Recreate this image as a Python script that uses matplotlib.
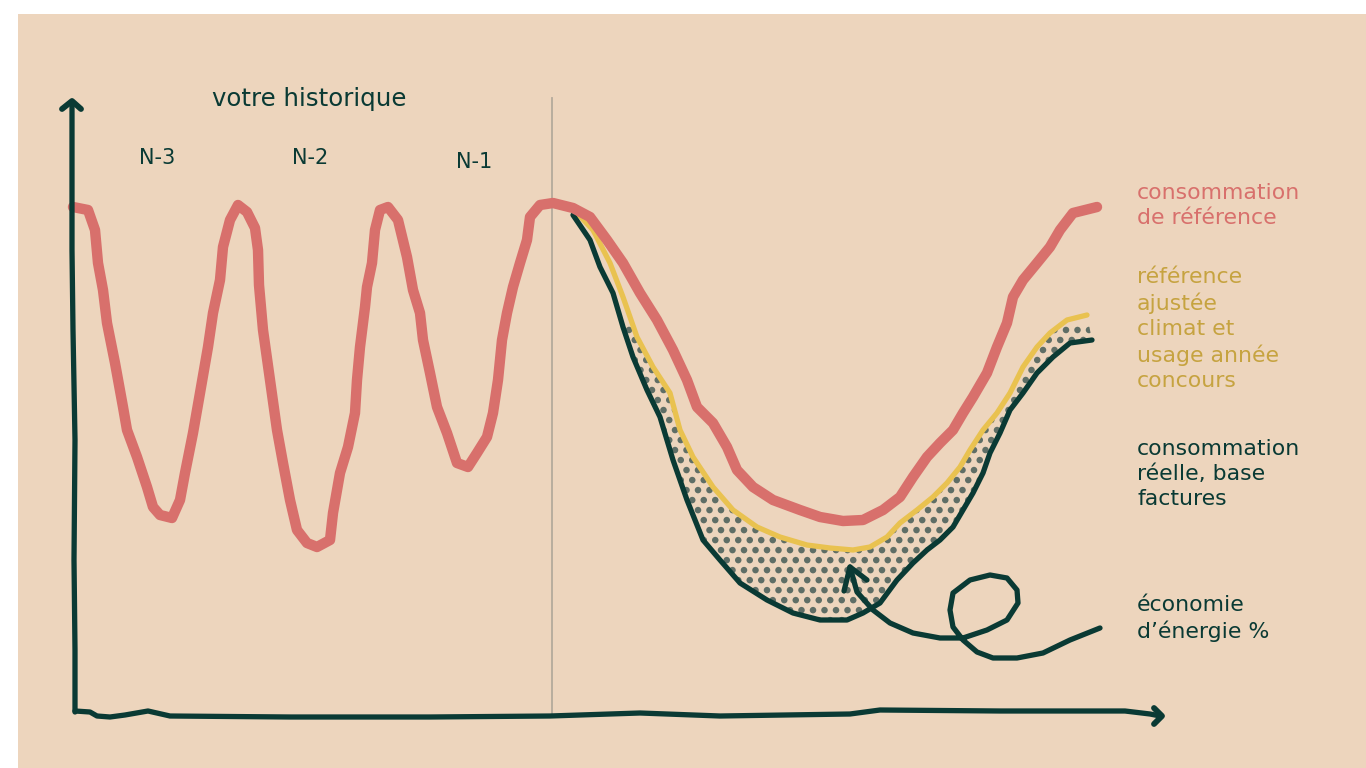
import numpy as np
import matplotlib
matplotlib.use("Agg")
import matplotlib.pyplot as plt
from matplotlib.patches import Rectangle, Polygon

# ---------------- data (drawing units: x = time, y = consumption, screen-like) -------------
ref_x = [73, 88, 95, 98, 103, 107, 115, 123, 127, 137, 147, 153, 160, 172, 180, 185, 193, 200,
         208, 213, 220, 223, 230, 238, 247, 255, 258, 259, 263, 270, 277, 283, 290, 297, 307,
         317, 330, 333, 340, 348, 355, 357, 360, 365, 367, 372, 375, 380, 388, 398, 407, 413,
         420, 423, 430, 437, 447, 457, 468, 477, 487, 493, 498, 502, 507, 513, 520, 527, 530,
         540, 553, 573, 590, 607, 623, 640, 657, 673, 687, 697, 713, 727, 737, 753, 773, 800,
         820, 843, 863, 883, 900, 913, 927, 940, 953, 963, 973, 987, 997, 1007, 1013, 1023,
         1037, 1050, 1060, 1073, 1097]
ref_y = [207, 210, 230, 263, 290, 323, 363, 407, 430, 457, 487, 507, 515, 518, 500, 473, 433, 393,
         347, 313, 280, 247, 220, 205, 212, 228, 250, 285, 330, 380, 430, 463, 500, 530, 543,
         547, 540, 513, 473, 447, 413, 380, 347, 307, 287, 263, 230, 210, 207, 220, 257, 290,
         313, 340, 373, 407, 433, 463, 467, 453, 437, 413, 380, 340, 313, 287, 263, 240, 217,
         205, 203, 208, 217, 240, 263, 293, 320, 350, 380, 407, 423, 447, 470, 487, 500, 510,
         517, 521, 520, 510, 497, 477, 457, 443, 430, 413, 397, 373, 347, 323, 297, 280,
         263, 247, 230, 213, 207]

adj_x = [577, 593, 610, 623, 637, 653, 670, 680, 693, 713, 733, 757, 780, 807, 830, 853, 870,
         887, 900, 917, 933, 947, 960, 970, 983, 997, 1010, 1023, 1037, 1050, 1067, 1087]
adj_y = [213, 230, 263, 297, 337, 367, 393, 430, 457, 487, 510, 527, 537, 545, 548, 550, 547,
         537, 523, 510, 497, 483, 467, 450, 430, 413, 393, 367, 347, 333, 320, 315]

real_x = [573, 590, 600, 613, 623, 633, 647, 660, 673, 687, 703, 720, 740, 767, 793, 820, 847,
          863, 880, 897, 913, 927, 940, 953, 963, 973, 983, 990, 1000, 1010, 1023, 1037, 1053,
          1070, 1092]
real_y = [215, 240, 267, 293, 327, 357, 390, 417, 460, 500, 540, 560, 583, 600, 613, 620, 620,
          613, 603, 580, 563, 550, 540, 527, 510, 493, 473, 453, 433, 410, 393, 373, 357,
          343, 340]

# annotation arrow with loop (économie d'énergie)
loop_x = [850, 857, 873, 890, 913, 940, 963, 987, 1007, 1018, 1017, 1007, 990, 970, 953, 950,
          953, 963, 977, 993, 1017, 1043, 1070, 1100]
loop_y = [567, 592, 610, 623, 633, 638, 638, 630, 620, 603, 590, 578, 575, 580, 593, 610,
          627, 640, 652, 658, 658, 653, 640, 628]

# hand-drawn axes
yaxis_x = [75, 75, 74, 75, 73, 72, 72, 72]
yaxis_y = [712, 650, 560, 440, 330, 250, 150, 102]
xaxis_x = [75, 90, 97, 110, 125, 148, 170, 290, 350, 430, 550, 640, 720, 850, 880, 1000,
           1125, 1150, 1160]
xaxis_y = [711, 712, 716, 717, 715, 711, 716, 717, 717, 717, 716, 713, 716, 714, 710, 711,
           711, 714, 716]

years = ["N-3", "N-2", "N-1"]
year_x = [157, 310, 474]
year_y = [158, 158, 162]

labels = ["consommation\nde référence",
          "référence\najustée\nclimat et\nusage année\nconcours",
          "consommation\nréelle, base\nfactures",
          "économie\nd\u2019énergie %"]
label_y = [192, 276, 448, 604]

# ---------------- style ----------------
BG = "#EDD5BD"
RED = "#D8706C"
YEL = "#E9C250"
YEL_TXT = "#C6A340"
DARK = "#0A3A34"
DOT = "#5F6E66"
VLINE = "#B4AA9B"
FONT = ["DejaVu Sans"]

fig = plt.figure(figsize=(13.66, 7.68), dpi=100, facecolor="white")
ax = fig.add_axes([0, 0, 1, 1])
ax.set_xlim(0, 1366)
ax.set_ylim(768, 0)
ax.axis("off")

ax.add_patch(Rectangle((18, 14), 1366 - 18, 768 - 14, facecolor=BG, edgecolor="none", zorder=0))

# separator between history and contest year
ax.plot([552, 552], [98, 716], color=VLINE, lw=1.3, zorder=1)

# stippled savings area between adjusted reference and real consumption
poly_pts = np.column_stack([adj_x + real_x[::-1], adj_y + real_y[::-1]])
area = Polygon(poly_pts, closed=True, facecolor="none", edgecolor="none")
ax.add_patch(area)
gx, gy = [], []
step = 11.5
row = 0
for yy in np.arange(330, 640, step * 0.87):
    off = (step / 2) if row % 2 else 0.0
    for xx in np.arange(560 + off, 1110, step):
        gx.append(xx)
        gy.append(yy)
    row += 1
dots = ax.scatter(gx, gy, s=22, color=DOT, edgecolors="none", zorder=2)
dots.set_clip_path(area)

lk = dict(solid_capstyle="round", solid_joinstyle="round")
ax.plot(adj_x, adj_y, color=YEL, lw=3.8, zorder=3, **lk)
ax.plot(real_x, real_y, color=DARK, lw=3.8, zorder=4, **lk)
ax.plot(ref_x, ref_y, color=RED, lw=7.5, zorder=5, **lk)

# axes
ax.plot(yaxis_x, yaxis_y, color=DARK, lw=3.8, zorder=6, **lk)
ax.plot(xaxis_x, xaxis_y, color=DARK, lw=3.8, zorder=6, **lk)
ax.plot([62, 72, 81], [109, 101, 109], color=DARK, lw=4.2, zorder=6, **lk)
ax.plot([1154, 1162, 1154], [708, 716, 724], color=DARK, lw=4.2, zorder=6, **lk)

# arrow with loop
ax.plot(loop_x, loop_y, color=DARK, lw=3.8, zorder=7, **lk)
ax.plot([844, 850, 867], [591, 567, 580], color=DARK, lw=3.8, zorder=7, **lk)

# texts
ax.text(212, 99, "votre historique", family=FONT, fontsize=17.6, color=DARK,
        ha="left", va="center", zorder=8)
for t, xx, yy in zip(years, year_x, year_y):
    ax.text(xx, yy, t, family=FONT, fontsize=15, color=DARK, ha="center", va="center", zorder=8)

label_colors = [RED, YEL_TXT, DARK, DARK]
for t, yy, c in zip(labels, label_y, label_colors):
    ax.text(1137, yy - 9, t, family=FONT, fontsize=15.8, color=c, ha="left", va="top",
            linespacing=1.32, zorder=8)

fig.savefig("out.png", dpi=100, facecolor="white")
